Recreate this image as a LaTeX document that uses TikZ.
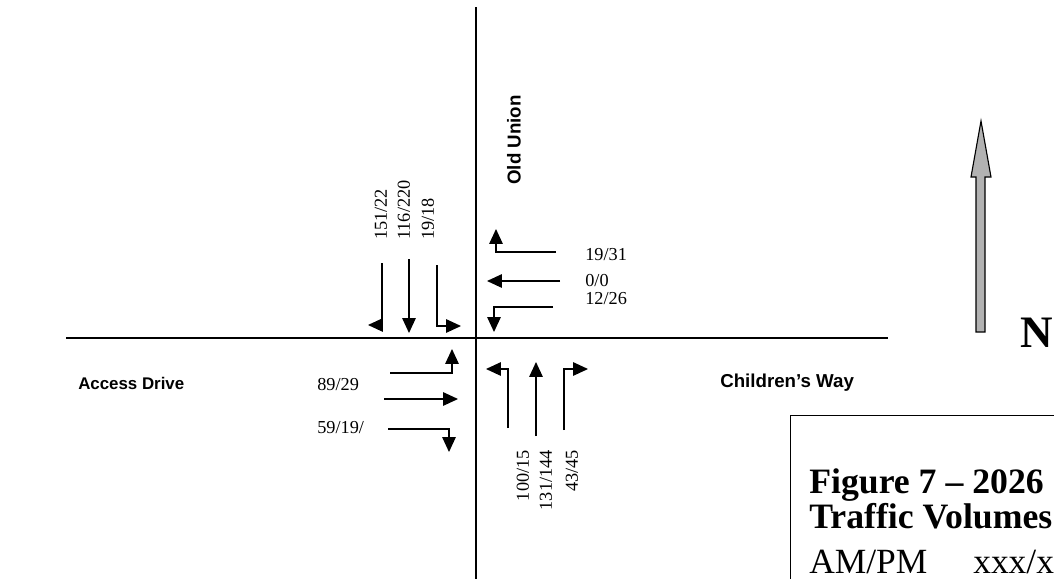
\documentclass[tikz,border=0pt]{standalone}
\usepackage{fontspec}
\setmainfont{Liberation Serif}
\setsansfont{Liberation Sans}
\usetikzlibrary{arrows.meta}
\tikzset{
  road/.style={line width=1.4pt},
  mv/.style={-{Triangle[length=10.5pt,width=9.5pt]},line width=0.9pt},
  vol/.style={font=\fontsize{13}{15}\selectfont,inner sep=0pt},
  rname/.style={font=\sffamily\bfseries\fontsize{13.3}{15}\selectfont,inner sep=0pt},
  ttl/.style={font=\bfseries\fontsize{25.4}{28}\selectfont,inner sep=0pt,anchor=base west},
  sub/.style={font=\fontsize{25.2}{28}\selectfont,inner sep=0pt,anchor=base west}
}

\begin{document}
\begin{tikzpicture}[x=0.025cm,y=-0.025cm]
\useasboundingbox (0,0) rectangle (1054,579);
\clip (0,0) rectangle (1054,579);
% roads
\draw[road] (476,7) -- (476,579);
\draw[road] (66,338) -- (888,338);
\node[rname,rotate=90] (ou) at (514,140) {Old Union};
\node[rname,anchor=west] (cw) at (720,383) {Children's Way};
\node[rname,anchor=west,font=\sffamily\bfseries\fontsize{12}{14}\selectfont] (ad) at (78,383) {Access Drive};
% southbound
\draw[mv] (382,263) -- (382,325) -- (368,325);
\draw[mv] (409,259) -- (409,333);
\draw[mv] (437,265) -- (437,326) -- (461,326);
\node[vol,rotate=90,anchor=west] (sbr) at (381,240) {151/22};
\node[vol,rotate=90,anchor=west] (sbt) at (404,240) {116/220};
\node[vol,rotate=90,anchor=west] (sbl) at (428,240) {19/18};
% westbound
\draw[mv] (556,252) -- (496,252) -- (496,229);
\draw[mv] (560,281) -- (487,281);
\draw[mv] (553,307) -- (494,307) -- (494,332);
\node[vol,anchor=west] (wbr) at (585,255) {19/31};
\node[vol,anchor=west] (wbt) at (585,281) {0/0};
\node[vol,anchor=west] (wbl) at (585,299) {12/26};
% eastbound
\draw[mv] (390,373) -- (452,373) -- (452,349);
\draw[mv] (384,399) -- (458,399);
\draw[mv] (388,429) -- (449,429) -- (449,452);
\node[vol,anchor=west] (ebl) at (317,385) {89/29};
\node[vol,anchor=west] (ebr) at (317,428) {59/19/};
% northbound
\draw[mv] (508,428) -- (508,369) -- (486,369);
\draw[mv] (536,436) -- (536,362);
\draw[mv] (564,430) -- (564,369) -- (588,369);
\node[vol,rotate=90,anchor=east] (nbl) at (523,450) {100/15};
\node[vol,rotate=90,anchor=east] (nbt) at (546,450) {131/144};
\node[vol,rotate=90,anchor=east] (nbr) at (572,450) {43/45};
% north arrow
\draw[line width=0.8pt,fill=gray!60] (976,332) -- (976,177) -- (971,177) -- (981,121)
  -- (991,177) -- (985,177) -- (985,332) -- cycle;
\node[font=\bfseries\fontsize{32}{34}\selectfont,inner sep=0pt] (nn) at (1037,333) {N};
% legend box
\draw[line width=0.6pt] (1060,415) -- (790,415) -- (790,590);
\node[ttl] (t1) at (809,493) {Figure 7 -- 2026};
\node[ttl] (t2) at (809,528) {Traffic Volumes};
\node[sub] (t3) at (809,573) {AM/PM};
\node[sub] (t4) at (973,573) {xxx/x};
\end{tikzpicture}
\end{document}
